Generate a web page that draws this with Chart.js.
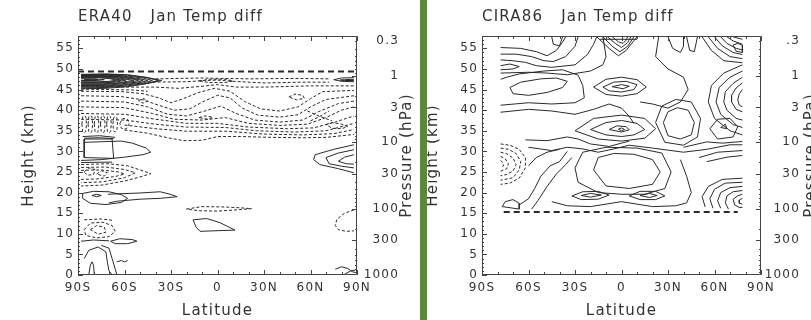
<!DOCTYPE html>
<html>
<head>
<meta charset="utf-8">
<script src="https://cdn.jsdelivr.net/npm/chart.js@4"></script>
<style>
  body { margin: 0; background: #fff; width: 811px; height: 320px; overflow: hidden; position: relative; }
  #wrapL { position: absolute; left: 0; top: 0; width: 420px; height: 320px; }
  #wrapR { position: absolute; left: 400px; top: 0; width: 411px; height: 320px; }
  #bar { position: absolute; left: 420px; top: 0; width: 7px; height: 320px; background: #588a38; }
</style>
</head>
<body>
<div id="wrapL"><canvas id="era" width="420" height="320"></canvas></div>
<div id="wrapR"><canvas id="cira" width="411" height="320"></canvas></div>
<div id="bar"></div>
<script>
// axis ticks
var latTicks = [-90, -60, -30, 0, 30, 60, 90];
var latLabels = ["90S", "60S", "30S", "0", "30N", "60N", "90N"];
var heightTicks = [0, 5, 10, 15, 20, 25, 30, 35, 40, 45, 50, 55];
var pressLevels = [1000, 300, 100, 30, 10, 3, 1, 0.3];
var eraPressLabels = ["1000", "300", "100", "30", "10", "3", "1", "0.3"];
var ciraPressLabels = ["1000", "300", "100", "30", "10", "3", "1", ".3"];

// contour lines, each a list of [latitude, height km]
var eraBoundary = [[-90, 49.4], [90, 49.4]];
var eraNegLines = [
  [[-40,47.6],[-10,47.8],[20,47.6],[50,47.7],[72,47.6]],
  [[-45,46.8],[-20,46.9],[-8,47.2],[0,47.3],[10,47],[30,46.6],[55,46.8],[72,46.8]],
  [[-88,45.8],[-60,45.6],[-40,45.6],[-25,45.3],[-10,45.8],[0,46.2],[12,45.6],[30,45.6],[60,45.9],[88,45.9]],
  [[-88,45.1],[-70,45],[-55,44.9],[-45,44.6]],
  [[-88,44.6],[-62,44.5],[-48,44],[-38,43],[-30,41.8],[-22,42.8],[-12,44.3],[-2,45.3],[8,44.6],[18,42],[28,40.3],[40,39.8],[52,40.8],[60,42.8],[68,44.5],[88,44.8]],
  [[-88,43.5],[-62,43.3],[-48,42.5],[-38,41.2],[-28,40],[-18,40.3],[-8,42.3],[0,43.6],[8,43],[16,40.5],[26,38.8],[40,38.3],[52,38.9],[60,40.8],[70,42.6],[88,43.5]],
  [[-88,42.2],[-60,42],[-45,40.8],[-32,39],[-20,38.6],[-8,39.8],[2,41],[12,39.2],[24,37.6],[40,37.1],[55,37.6],[65,39.6],[78,41.6],[88,42.2]],
  [[-88,40.8],[-60,40.6],[-42,39.2],[-28,37.8],[-10,37.6],[5,38.2],[20,36.8],[40,36.3],[58,36.6],[70,38.2],[80,40],[88,40.8]],
  [[-88,39.2],[-60,39],[-40,37.8],[-20,36.8],[0,36.8],[20,35.9],[45,35.5],[62,35.7],[75,37],[88,38.6]],
  [[-88,37.8],[-60,37.6],[-40,36.6],[-20,35.9],[5,35.8],[25,35],[50,34.7],[70,35],[88,36.8]],
  [[-60,36.4],[-40,35.5],[-20,34.9],[5,34.9],[30,34.2],[55,34],[75,34.3],[88,35.3]],
  [[-60,35.2],[-45,34.4],[-32,33.3],[-22,32.6],[-10,32.7],[0,33.6],[15,33.6],[35,33.4],[55,33.3],[70,33.4],[88,34.1]],
  [[-87.5,36.6],[-87,38.4],[-86,38.7],[-85,38.4],[-84.5,36.6],[-85,34.8],[-86,34.5],[-87,34.8],[-87.5,36.6]],
  [[-83.5,36.6],[-83,38.4],[-82,38.7],[-81,38.4],[-80.5,36.6],[-81,34.8],[-82,34.5],[-83,34.8],[-83.5,36.6]],
  [[-79.5,36.6],[-79,38.4],[-78,38.7],[-77,38.4],[-76.5,36.6],[-77,34.8],[-78,34.5],[-79,34.8],[-79.5,36.6]],
  [[-75.5,36.6],[-75,38.4],[-74,38.7],[-73,38.4],[-72.5,36.6],[-73,34.8],[-74,34.5],[-75,34.8],[-75.5,36.6]],
  [[-71.5,36.6],[-71,38.4],[-70,38.7],[-69,38.4],[-68.5,36.6],[-69,34.8],[-70,34.5],[-71,34.8],[-71.5,36.6]],
  [[-67.5,36.6],[-67,38.2],[-66,38.5],[-65,38.2],[-64.5,36.6],[-65,35],[-66,34.7],[-67,35],[-67.5,36.6]],
  [[-63,36.8],[-61,38],[-58,37.8],[-57,36.6],[-59,35.4],[-62,35.6],[-63,36.8]],
  [[-12,47.1],[-5,47.5],[5,47.5],[10,47.1],[5,46.7],[-5,46.7],[-12,47.1]],
  [[46,43.2],[50,43.9],[55,43.6],[56,42.9],[51,42.5],[46,43.2]],
  [[58,39.8],[66,38.5],[74,37.4]],
  [[60,37.4],[66,38.5],[72,39.8]],
  [[70,36.5],[74,37],[80,36.6],[84,36],[80,35.5],[74,35.6],[70,36.5]],
  [[-12,38.2],[-8,38.6],[-3,38.3],[-6,37.8],[-12,38.2]],
  [[-51,42.3],[-48,42.9],[-45,42.2],[-48,41.7],[-51,42.3]],
  [[-88,26.8],[-70,27],[-58,26.5],[-50,25.5],[-43,24.6],[-50,23.8],[-60,22.8],[-75,21.8],[-88,21.6]],
  [[-88,26.1],[-72,26.2],[-60,25.6],[-53,24.8],[-60,23.6],[-74,22.6],[-88,22.4]],
  [[-88,25.4],[-75,25.5],[-64,25],[-60,24.5],[-66,23.9],[-78,23.3],[-88,23.2]],
  [[-86,25],[-83,26],[-79,25.6],[-80,24.4],[-84,24.2],[-86,25]],
  [[-78,24.5],[-75,25.3],[-71,24.8],[-73,24],[-78,24.5]],
  [[-20,16],[-10,16.6],[5,16.5],[15,16.3],[22,16.1],[12,15.8],[0,15.5],[-12,15.6],[-20,16]],
  [[-86,13.4],[-75,13.6],[-68,13.3]],
  [[-86,11],[-82,12.6],[-74,12.8],[-68,12],[-66,10.6],[-70,9.3],[-78,9],[-85,9.6],[-86,11]],
  [[-82,11],[-78,12],[-73,11.6],[-72,10.4],[-77,9.9],[-82,11]],
  [[88,15.8],[82,15],[77,13.5],[76,12],[78,11],[83,10.6],[88,10.7]]
];
var eraPosLines = [
  [[-88,48.7],[-72,48.8],[-58,48.6],[-46,48],[-36,47.2],[-46,46.4],[-58,45.7],[-72,45.3],[-88,45.2]],
  [[-88,48.6],[-72,48.7],[-58,48.5],[-46,47.9],[-38,47.2],[-46,46.5],[-58,45.9],[-72,45.5],[-88,45.4]],
  [[-88,48.5],[-72,48.6],[-59,48.3],[-48,47.8],[-42,47.2],[-48,46.6],[-59,46.1],[-72,45.7],[-88,45.6]],
  [[-88,48.4],[-72,48.5],[-60,48.2],[-50,47.6],[-45,47.2],[-50,46.7],[-60,46.2],[-72,45.9],[-88,45.8]],
  [[-88,48.3],[-73,48.4],[-62,48.1],[-52,47.5],[-48,47.2],[-52,46.8],[-62,46.4],[-73,46],[-88,46]],
  [[-88,48.2],[-74,48.3],[-63,48],[-54,47.5],[-51,47.2],[-55,46.9],[-64,46.5],[-74,46.2],[-88,46.2]],
  [[-88,48.1],[-74,48.2],[-65,47.9],[-57,47.4],[-54,47.2],[-58,47],[-65,46.6],[-74,46.4],[-88,46.4]],
  [[-88,48],[-75,48.1],[-66,47.8],[-59,47.3],[-66,46.8],[-75,46.6],[-88,46.6]],
  [[-88,47.9],[-76,48],[-68,47.7],[-62,47.3],[-68,46.9],[-76,46.7],[-88,46.75]],
  [[-88,47.8],[-77,47.9],[-69,47.6],[-65,47.3],[-70,47],[-77,46.9],[-88,46.9]],
  [[-88,47.6],[-79,47.6],[-73,47.4],[-78,47.2],[-88,47.2]],
  [[-86,47.45],[-80,47.5],[-77,47.4],[-80,47.3],[-86,47.35]],
  [[88,47.9],[80,47.8],[75,47.4],[80,47],[88,46.9]],
  [[88,47.5],[82,47.4],[79,47.3],[82,47.2],[88,47.2]],
  [[-87,33.6],[-76,33.8],[-66,33.4]],
  [[-86,33.2],[-76,33.3],[-67,33.1]],
  [[-86,33],[-86,28.5],[-67,28.3],[-68,33],[-86,33]],
  [[-86,32.2],[-70,32.4],[-62,32.5],[-55,32],[-46,30.8],[-43,29.8],[-48,29.2],[-60,28.6],[-75,28],[-88,27.8]],
  [[-88,27.3],[-68,27.4]],
  [[-87,19.8],[-80,20.3],[-70,20.2],[-62,19.5],[-58,18.6],[-62,17.6],[-72,17.1],[-82,17.4],[-87,18.6],[-87,19.8]],
  [[-81,19.3],[-78,19.6],[-75,19.3],[-78,19],[-81,19.3]],
  [[-70.6,19.6],[-50,19.9],[-37,20.2],[-30.6,19.6],[-26,19],[-37,18.6],[-50,18.4],[-65,17.9],[-70,17.5]],
  [[-15.8,13.4],[-7,13.7],[1.6,12.7],[11.3,10.9],[-11.3,10.6],[-13.8,11.6],[-15.8,13.4]],
  [[-88,8.2],[-80,8.5],[-70,8.3]],
  [[-69,8.2],[-63,8.8],[-55,8.6],[-52,8.2],[-58,7.6],[-66,7.6],[-69,8.2]],
  [[-86,4],[-83,6],[-77,6.8],[-72,5.6],[-71,3],[-70,1],[-68,0.1]],
  [[-75,7.2],[-70,6.5],[-68,4],[-66,1.5],[-65,0.1]],
  [[-83,0.2],[-82,2.4],[-81,3.2],[-80,2.4],[-79.5,0.2]],
  [[-65,3.2],[-62,3.5],[-60,3.2],[-58,3.5]],
  [[88,31.6],[75,30.5],[63,29.2],[62,28],[66,26.8],[78,25.8],[88,24.8]],
  [[88,30.4],[78,29.6],[70,28.5],[72,27],[80,26.4],[88,26]],
  [[88,29.2],[82,28.6],[78,27.6],[83,27],[88,26.9]],
  [[76,1.4],[80,2],[84,1.6],[87,0.8],[89,0.6]],
  [[82,0.2],[86,1],[89,1.2]]
];

var ciraBoundary = [[-76, 15.3], [75, 15.3]];
var ciraNegLines = [
  [[-78,31.8],[-72,31.5],[-66,30.5],[-62,28.5],[-62,26],[-66,23.5],[-72,22.3],[-78,22]],
  [[-78,30.8],[-73,30.5],[-68,29.5],[-65,27.5],[-66,25.5],[-70,23.6],[-78,23]],
  [[-78,29.8],[-74,29.4],[-70,28.4],[-68,26.8],[-70,25.2],[-74,24.4],[-78,24.1]],
  [[-78,28.8],[-75,28.2],[-73,27],[-74,25.8],[-78,25.2]],
  [[-78,27.8],[-76.5,27.2],[-76,26.5],[-78,26.2]]
];
var ciraPosLines = [
  [[-78,55.2],[-65,55],[-55,54.2],[-48,53.2],[-42,54.5],[-38,56.5],[-36,57.8]],
  [[-78,53.6],[-68,53.6],[-58,53],[-50,52],[-44,51.8],[-36,53],[-30,55.5],[-28,57.8]],
  [[-78,52.2],[-70,52],[-62,51.6],[-55,50.8],[-45,50.4],[-30,51],[-22,53.5],[-18,56],[-16,57.8]],
  [[-78,50.8],[-72,51.2],[-66,50.6],[-70,50],[-78,49.8]],
  [[-78,49],[-60,49.2],[-48,49],[-35,48.6],[-20,49.5],[-12,51],[-10,53],[-12,57.8]],
  [[-16,57.8],[-8,55],[-2,53.2],[3,54.5],[10,57.8]],
  [[-12,57.8],[-6,55.5],[-1,54.2],[4,55.5],[8,57.8]],
  [[-9,57.8],[-4,56.2],[0,55.2],[4,56.4],[6,57.8]],
  [[-6,57.8],[-2,56.6],[1,56.2],[3,57],[4,57.8]],
  [[-14,57.2],[10,57.2]],
  [[-45,57.8],[-44,56],[-40,55.6],[-38,57.8]],
  [[42,57.8],[44,54.5],[47,54.2],[49,57.8]],
  [[30,57.8],[33,55],[38,54],[40,55.5],[40,57.8]],
  [[56,57.8],[62,55],[70,53],[78,52.5]],
  [[60,57.8],[65,55.6],[72,54],[78,53.5]],
  [[64,57.8],[68,56.2],[74,55],[78,54.6]],
  [[68,57.8],[72,56.8],[78,56]],
  [[72,57.8],[78,57.2]],
  [[52,57.8],[58,54.5],[66,52],[78,51.5]],
  [[72,55.8],[75,56.2],[78,55.8],[78,54],[74,54.3],[72,55.8]],
  [[78,51],[66,49],[58,46],[56,42],[60,38],[70,35],[78,34]],
  [[78,49.5],[70,48],[63,45.5],[61,42],[64,39],[72,36.5],[78,35.8]],
  [[78,48],[72,46.5],[67,44.5],[66,42],[68,40],[74,38],[78,37.6]],
  [[78,46.6],[74,45.4],[71,43.6],[71,42],[74,40.2],[78,39.6]],
  [[78,45],[76,44],[75,42.5],[76,41.2],[78,40.8]],
  [[-72,45.5],[-65,46.8],[-52,47.6],[-42,47.8],[-35,47],[-38,45.5],[-48,44.3],[-60,43.6],[-70,44],[-72,45.5]],
  [[-18,45.6],[-10,47.5],[0,48],[10,47.4],[16,45.6],[10,44],[0,43.4],[-10,43.8],[-18,45.6]],
  [[-12,45.6],[-5,46.8],[3,47],[10,46.2],[8,45],[0,44.4],[-8,44.7],[-12,45.6]],
  [[-6,45.7],[0,46.2],[5,45.8],[1,45.2],[-6,45.7]],
  [[-78,47.5],[-74,48],[-66,48.8],[-50,49.5],[-38,49.8],[-28,48.5],[-25,46],[-24,43],[-30,41.8],[-45,41.5],[-60,41.8],[-78,41.2]],
  [[24,57.8],[22,53],[30,50],[40,48],[43,45],[38,42],[30,40.5],[20,41.5],[12,42]],
  [[-78,39.5],[-60,40.2],[-45,39.8],[-30,39],[-18,40.2],[-8,41.5],[0,40.5],[5,38.5],[8,36.8]],
  [[-20,35.3],[-10,37],[0,37.5],[10,36.8],[15,35.3],[8,34],[0,33.6],[-10,34],[-20,35.3]],
  [[-8,35.3],[-3,36.2],[3,36],[5,35.2],[0,34.7],[-8,35.3]],
  [[-2,35.4],[0,35.7],[2,35.3],[0,35],[-2,35.4]],
  [[-30,35],[-18,38],[0,38.8],[15,38],[22,35.5],[15,33.2],[0,32.5],[-15,33],[-30,35]],
  [[27,37],[30,39.6],[36,40.6],[43,40],[47,37],[45,34],[38,33],[30,33.8],[27,37]],
  [[22,37],[26,41],[35,42.6],[45,42],[51,38],[49,33.5],[40,31.5],[28,32.2],[22,37]],
  [[57,35.5],[62,37.8],[70,38],[75,36],[72,33.5],[62,33],[57,35.5]],
  [[64,35.8],[67,36.6],[68,35.5],[64,35.8]],
  [[-60,31],[-45,30.2],[-35,31],[-25,30.6],[-15,29.8],[-5,30.6],[5,31.5],[20,30.8],[40,29.8],[55,30.5],[70,31.6],[78,31.6]],
  [[-62,32.8],[-48,32.6],[-35,33.5],[-28,33],[-20,31.8],[-8,31.2],[5,32.5]],
  [[40,31],[55,32.3],[65,32],[78,32.4]],
  [[50,28.5],[62,29.8],[78,30.2]],
  [[55,27.5],[68,28.6],[78,29]],
  [[-18,25.5],[-15,28.5],[-5,29.5],[8,29.3],[20,28],[25,25],[20,22],[5,21],[-10,21.6],[-18,25.5]],
  [[-30,26],[-25,29.8],[-10,31],[10,30.8],[26,29.6],[32,25],[28,21],[15,19.6],[0,19.6],[-15,20],[-28,22.5],[-30,26]],
  [[-32,19.2],[-25,20.2],[-15,20.3],[-8,19.4],[-15,18.4],[-26,18.3],[-32,19.2]],
  [[-26,19.3],[-20,19.8],[-13,19.4],[-20,18.9],[-26,19.3]],
  [[5,19.2],[12,20.3],[22,20.3],[28,19.2],[22,18.3],[12,18.3],[5,19.2]],
  [[12,19.3],[18,19.8],[23,19.3],[18,18.8],[12,19.3]],
  [[-45,17.8],[-35,16.8],[-20,16.6],[0,17.8],[20,16.6],[35,16.8],[42,17.5],[45,20],[42,24],[38,28]],
  [[-66,17],[-60,18.5],[-56,21],[-52,24],[-46,26.5],[-40,27.5],[-35,30]],
  [[-58,16],[-54,18],[-48,21.5],[-42,24.5],[-36,26.8],[-32,28.5]],
  [[-60,26.5],[-55,28.5],[-48,29.8],[-40,30.5]],
  [[-77,16.6],[-75,17.8],[-70,18.3],[-66,17.4],[-66,16],[-77,16.6]],
  [[78,23.5],[65,23.2],[56,21.5],[52,19],[54,16.5]],
  [[78,22.5],[67,22.3],[60,20.8],[57,18.5],[59,16.2]],
  [[78,21.5],[70,21.2],[64,20],[62,18],[64,16.2]],
  [[78,20.5],[72,20.2],[68,19.2],[67,17.5],[69,16]],
  [[78,19.6],[75,19.2],[72,18.4],[73,17],[76,16.4],[78,16.4]],
  [[78,18.6],[76,18.2],[76,17.4],[78,17.2]]
];

var ink = "#2a2a2a";
var textInk = "#333";
var face = "'DejaVu Sans', sans-serif";
var spacing = "1.2px";

function toZ(p) { return 7 * Math.log(1000 / p); }

var spacingPlugin = {
  id: "spacing",
  beforeLayout: function(chart) { chart.ctx.letterSpacing = spacing; },
  beforeDraw: function(chart) { chart.ctx.letterSpacing = spacing; }
};

var framePlugin = {
  id: "frame",
  afterDatasetsDraw: function(chart) {
    var ctx = chart.ctx, a = chart.chartArea;
    var sx = chart.scales.x, sy = chart.scales.y;
    ctx.save();
    ctx.strokeStyle = "#444";
    ctx.lineWidth = 1;
    ctx.beginPath();
    ctx.rect(Math.round(a.left) + 0.5, Math.round(a.top) + 0.5, Math.round(a.width) - 1, Math.round(a.height) - 1);
    for (var v = -90; v <= 90; v += 10) {
      var px = Math.round(sx.getPixelForValue(v)) + 0.5;
      var len = (v % 30 === 0) ? 5 : 3;
      ctx.moveTo(px, a.bottom); ctx.lineTo(px, a.bottom - len);
      ctx.moveTo(px, a.top); ctx.lineTo(px, a.top + len);
    }
    for (var h = 0; h <= 57; h += 1) {
      var py = Math.round(sy.getPixelForValue(h)) + 0.5;
      var l2 = (h % 5 === 0) ? 5 : 2;
      ctx.moveTo(a.left, py); ctx.lineTo(a.left + l2, py);
    }
    var decades = [0.1, 1, 10, 100];
    for (var d = 0; d < decades.length; d++) {
      for (var m = 1; m <= 9; m++) {
        var p = decades[d] * m;
        if (p < 0.3 || p > 1000) continue;
        var y = Math.round(sy.getPixelForValue(toZ(p))) + 0.5;
        var major = pressLevels.indexOf(p) >= 0;
        ctx.moveTo(a.right, y); ctx.lineTo(a.right - (major ? 5 : 2), y);
      }
    }
    ctx.stroke();
    ctx.restore();
  },
  afterDraw: function(chart, args, opts) {
    var ctx = chart.ctx, a = chart.chartArea;
    ctx.save();
    ctx.letterSpacing = spacing;
    ctx.font = "15px " + face;
    ctx.fillStyle = textInk;
    ctx.textAlign = "center";
    ctx.textBaseline = "middle";
    ctx.translate(a.right + 50.5, (a.top + a.bottom) / 2);
    ctx.rotate(-Math.PI / 2);
    ctx.fillText(opts.text, 0, 0);
    ctx.restore();
  }
};

Chart.register(spacingPlugin, framePlugin);

function lineSets(lines, dash, width) {
  return lines.map(function(pts) {
    return {
      data: pts.map(function(p) { return {x: p[0], y: p[1]}; }),
      showLine: true,
      borderColor: ink,
      borderWidth: width,
      borderDash: dash,
      pointRadius: 0,
      tension: 0,
      fill: false
    };
  });
}

function makePanel(id, title, boundary, negLines, posLines, pressLabels, yWidth, pWidth, rightPad, hPad) {
  var tickFont = {family: face, size: 12};
  var titleFont = {family: face, size: 15, weight: "normal"};
  var datasets = lineSets([boundary], [6, 4], 2)
    .concat(lineSets(negLines, [3, 2], 1))
    .concat(lineSets(posLines, [], 1));
  var noGrid = {display: false, drawTicks: false};
  return new Chart(document.getElementById(id), {
    type: "scatter",
    data: {datasets: datasets},
    options: {
      responsive: false,
      animation: false,
      events: [],
      layout: {padding: {left: 0, right: rightPad, top: 0, bottom: 0}},
      plugins: {
        legend: {display: false},
        tooltip: {enabled: false},
        title: {
          display: true, text: title, align: "start", fullSize: false,
          font: titleFont, color: textInk, padding: {top: 8, bottom: 10}
        },
        frame: {text: "Pressure (hPa)"}
      },
      scales: {
        x: {
          type: "linear", position: "bottom", min: -90, max: 90,
          afterBuildTicks: function(s) { s.ticks = latTicks.map(function(v) { return {value: v}; }); },
          afterFit: function(s) { s.height = 45; },
          ticks: {
            font: tickFont, color: textInk, padding: 6, maxRotation: 0, autoSkip: false,
            callback: function(v, i) { return latLabels[i]; }
          },
          grid: noGrid,
          border: {display: false},
          title: {display: true, text: "Latitude", font: titleFont, color: textInk, padding: {top: 0, bottom: 0}}
        },
        y: {
          type: "linear", position: "left", min: 0, max: 58,
          afterBuildTicks: function(s) { s.ticks = heightTicks.map(function(v) { return {value: v}; }); },
          afterFit: function(s) { s.width = yWidth; },
          ticks: {
            font: tickFont, color: textInk, padding: 4, autoSkip: false,
            callback: function(v, i) { return String(heightTicks[i]); }
          },
          grid: noGrid,
          border: {display: false},
          title: {display: true, text: "Height (km)", font: titleFont, color: textInk, padding: {top: hPad, bottom: 0}}
        },
        yP: {
          type: "linear", axis: "y", position: "right", min: 0, max: 58,
          afterBuildTicks: function(s) { s.ticks = pressLevels.map(function(p) { return {value: toZ(p)}; }); },
          afterFit: function(s) { s.width = pWidth; },
          ticks: {
            font: tickFont, color: textInk, padding: 5, crossAlign: "far", autoSkip: false,
            callback: function(v, i) { return pressLabels[i]; }
          },
          grid: noGrid,
          border: {display: false}
        }
      }
    }
  });
}

makePanel("era", "ERA40   Jan Temp diff", eraBoundary, eraNegLines, eraPosLines, eraPressLabels, 78, 42, 21, 20);
makePanel("cira", "CIRA86   Jan Temp diff", ciraBoundary, ciraNegLines, ciraPosLines, ciraPressLabels, 82, 39, 11, 24);
</script>
</body>
</html>
